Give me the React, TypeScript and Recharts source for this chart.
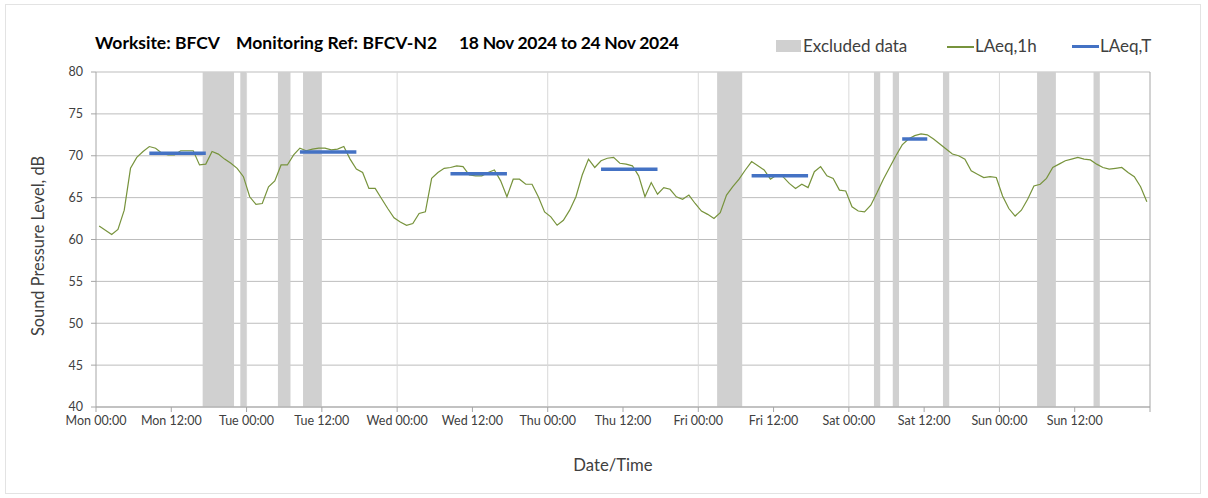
import React from 'react';
import {
  ComposedChart,
  Line,
  XAxis,
  YAxis,
  CartesianGrid,
  ReferenceArea,
  ReferenceLine,
} from 'recharts';

// Hourly LAeq,1h values (dB), value i plotted at hour i + 0.5 from Mon 00:00
const hourlyLevels: number[] = [
  61.6, 61.1, 60.6, 61.2, 63.5, 68.5, 69.8, 70.5, 71.1, 70.9, 70.3, 70.1,
  70.1, 70.6, 70.6, 70.6, 68.9, 69.0, 70.5, 70.2, 69.6, 69.1, 68.5, 67.5,
  65.1, 64.2, 64.3, 66.3, 67.0, 68.9, 68.9, 70.1, 70.9, 70.6, 70.8, 70.9,
  70.9, 70.7, 70.8, 71.1, 69.6, 68.4, 68.0, 66.1, 66.1, 64.9, 63.7, 62.6,
  62.1, 61.7, 61.9, 63.1, 63.3, 67.3, 68.0, 68.5, 68.6, 68.8, 68.7, 67.7,
  67.6, 67.6, 68.0, 68.3, 67.0, 65.1, 67.2, 67.2, 66.6, 66.6, 65.1, 63.3,
  62.7, 61.7, 62.3, 63.5, 65.1, 67.7, 69.6, 68.6, 69.4, 69.7, 69.8, 69.1,
  69.0, 68.8, 67.6, 65.1, 66.8, 65.4, 66.2, 66.0, 65.1, 64.8, 65.3, 64.3,
  63.4, 63.0, 62.5, 63.2, 65.3, 66.3, 67.2, 68.3, 69.3, 68.8, 68.3, 67.2,
  67.7, 67.5, 66.7, 66.1, 66.6, 66.2, 68.1, 68.7, 67.6, 67.3, 65.9, 65.8,
  63.9, 63.4, 63.3, 64.1, 65.6, 67.2, 68.6, 70.0, 71.3, 72.0, 72.4, 72.6,
  72.5, 72.0, 71.4, 70.8, 70.2, 70.0, 69.6, 68.2, 67.8, 67.4, 67.5, 67.4,
  65.2, 63.7, 62.8, 63.5, 64.8, 66.4, 66.6, 67.3, 68.6, 69.0, 69.4, 69.6,
  69.8, 69.6, 69.5, 69.0, 68.6, 68.4, 68.5, 68.6, 68.0, 67.5, 66.3, 64.5,
];

// LAeq,T periods: start hour, end hour, level
const periodStarts: number[] = [8.5, 32.5, 56.5, 80.5, 104.5, 128.5];
const periodEnds: number[] = [17.5, 41.5, 65.5, 89.5, 113.5, 132.5];
const periodLevels: number[] = [70.3, 70.45, 67.85, 68.4, 67.6, 72.0];

// Excluded data windows (hours from Mon 00:00)
const excludedStarts: number[] = [17, 23, 29, 33, 99, 124, 127, 135, 150, 159];
const excludedEnds: number[] = [22, 24, 31, 36, 103, 125, 128, 136, 153, 160];

const dayNames: string[] = ['Mon', 'Tue', 'Wed', 'Thu', 'Fri', 'Sat', 'Sun'];
const xTicks: number[] = [0, 12, 24, 36, 48, 60, 72, 84, 96, 108, 120, 132, 144, 156, 168];
const yTicks: number[] = [40, 45, 50, 55, 60, 65, 70, 75, 80];
const dayLines: number[] = [24, 48, 72, 96, 120, 144];

const lineData = hourlyLevels.map((v, i) => ({ h: i + 0.5, v }));

const FONT = 'Lato, "Open Sans", sans-serif';
const GREEN = '#77933c';
const BLUE = '#4472c4';
const BAND = '#d0d0d0';

const fmtX = (v: number) => {
  if (v >= 168) return '';
  const d = dayNames[Math.floor(v / 24)];
  return `${d} ${v % 24 === 0 ? '00:00' : '12:00'}`;
};

const titleStyle: React.CSSProperties = {
  position: 'absolute',
  top: 33,
  fontSize: 17.5,
  fontWeight: 700,
  lineHeight: '20px',
  color: '#000',
  whiteSpace: 'pre',
};

const legendText: React.CSSProperties = {
  position: 'absolute',
  top: 36,
  fontSize: 17,
  lineHeight: '20px',
  color: '#404040',
  whiteSpace: 'pre',
};

export default function App() {
  return (
    <div
      style={{
        position: 'absolute',
        left: 0,
        top: 0,
        width: 1208,
        height: 498,
        background: '#fff',
        fontFamily: FONT,
        overflow: 'hidden',
      }}
    >
      <div
        style={{
          position: 'absolute',
          left: 5,
          top: 4,
          width: 1194,
          height: 488,
          border: '1px solid #e3e3e3',
        }}
      />
      <ComposedChart
        width={1208}
        height={498}
        margin={{ top: 72, right: 58, bottom: 61, left: 36 }}
        style={{ position: 'absolute', left: 0, top: 0 }}
      >
        <CartesianGrid vertical={false} stroke="#bdbdbd" strokeWidth={1} />
        {excludedStarts.map((s, i) => (
          <ReferenceArea
            key={`ex${i}`}
            x1={s}
            x2={excludedEnds[i]}
            y1={40}
            y2={80}
            fill={BAND}
            fillOpacity={1}
            stroke="none"
          />
        ))}
        {dayLines.map((d) => (
          <ReferenceLine key={`d${d}`} x={d} stroke="#d9d9d9" strokeWidth={1} />
        ))}
        <ReferenceLine x={168} stroke="#a6a6a6" strokeWidth={1} />
        <XAxis
          dataKey="h"
          type="number"
          domain={[0, 168]}
          ticks={xTicks}
          tickFormatter={fmtX}
          interval={0}
          allowDataOverflow
          stroke="#a6a6a6"
          tickSize={5}
          tickMargin={4}
          height={30}
          tick={{ fill: '#404040', fontSize: 12.5, fontFamily: FONT }}
        />
        <YAxis
          type="number"
          domain={[40, 80]}
          ticks={yTicks}
          interval={0}
          allowDataOverflow
          stroke="#a6a6a6"
          tickSize={5}
          tickMargin={8}
          width={60}
          tick={{ fill: '#404040', fontSize: 12.5, fontFamily: FONT }}
        />
        <Line
          data={lineData}
          dataKey="v"
          type="linear"
          stroke={GREEN}
          strokeWidth={1.2}
          dot={false}
          activeDot={false}
          isAnimationActive={false}
        />
        {periodStarts.map((s, i) => (
          <Line
            key={`p${i}`}
            data={[
              { h: s, t: periodLevels[i] },
              { h: periodEnds[i], t: periodLevels[i] },
            ]}
            dataKey="t"
            type="linear"
            stroke={BLUE}
            strokeWidth={3.5}
            dot={false}
            activeDot={false}
            isAnimationActive={false}
          />
        ))}
      </ComposedChart>

      {/* Title */}
      <div style={{ ...titleStyle, left: 95 }}>Worksite: BFCV</div>
      <div style={{ ...titleStyle, left: 236 }}>Monitoring Ref: BFCV-N2</div>
      <div style={{ ...titleStyle, left: 459, letterSpacing: '-0.3px' }}>18 Nov 2024 to 24 Nov 2024</div>

      {/* Legend */}
      <div style={{ position: 'absolute', left: 776, top: 40, width: 25, height: 12, background: BAND }} />
      <div style={{ ...legendText, left: 803 }}>Excluded data</div>
      <div style={{ position: 'absolute', left: 947, top: 46, width: 27, height: 1.5, background: GREEN }} />
      <div style={{ ...legendText, left: 975 }}>LAeq,1h</div>
      <div style={{ position: 'absolute', left: 1072, top: 45, width: 27, height: 3, background: BLUE }} />
      <div style={{ ...legendText, left: 1100 }}>LAeq,T</div>

      {/* Axis titles */}
      <div
        style={{
          position: 'absolute',
          left: 37,
          top: 246,
          transform: 'translate(-50%, -50%) rotate(-90deg)',
          fontSize: 16.4,
          color: '#404040',
          whiteSpace: 'pre',
        }}
      >
        Sound Pressure Level, dB
      </div>
      <div
        style={{
          position: 'absolute',
          left: 613,
          top: 465,
          transform: 'translate(-50%, -50%)',
          fontSize: 16.7,
          color: '#404040',
          whiteSpace: 'pre',
        }}
      >
        Date/Time
      </div>
    </div>
  );
}
